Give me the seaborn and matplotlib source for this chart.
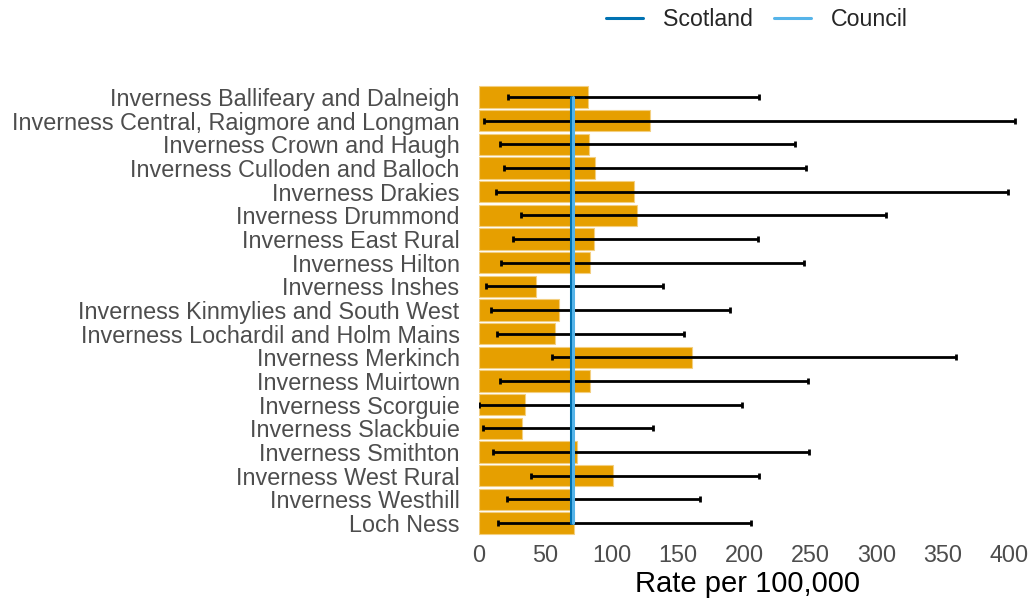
import numpy as np
import pandas as pd
import matplotlib
matplotlib.use("Agg")
import matplotlib.pyplot as plt
import seaborn as sns
from matplotlib.lines import Line2D

# Data
areas = [
    "Inverness Ballifeary and Dalneigh",
    "Inverness Central, Raigmore and Longman",
    "Inverness Crown and Haugh",
    "Inverness Culloden and Balloch",
    "Inverness Drakies",
    "Inverness Drummond",
    "Inverness East Rural",
    "Inverness Hilton",
    "Inverness Inshes",
    "Inverness Kinmylies and South West",
    "Inverness Lochardil and Holm Mains",
    "Inverness Merkinch",
    "Inverness Muirtown",
    "Inverness Scorguie",
    "Inverness Slackbuie",
    "Inverness Smithton",
    "Inverness West Rural",
    "Inverness Westhill",
    "Loch Ness",
]
rate = [82.2, 128.8, 83.2, 87.8, 116.9, 119.6, 87.0, 83.5, 42.8, 60.1,
        57.6, 160.5, 84.0, 35.0, 32.6, 74.3, 101.3, 68.7, 71.9]
lower_ci = [22.1, 4.0, 16.2, 18.9, 12.9, 31.8, 25.9, 16.7, 5.1, 9.4,
            13.5, 54.9, 16.2, 0.0, 2.7, 10.5, 39.3, 21.0, 14.0]
upper_ci = [211.4, 404.6, 238.4, 246.5, 399.2, 307.3, 210.9, 245.1, 138.7, 189.4,
            154.9, 359.9, 248.1, 198.5, 131.2, 248.9, 211.2, 167.0, 205.5]
scotland_rate = 69.1
council_rate = 70.9

df = pd.DataFrame({"area": areas, "rate": rate, "lower": lower_ci, "upper": upper_ci})
df["scotland"] = scotland_rate
df["council"] = council_rate

sns.set_style("white")
plt.rcParams["font.family"] = ["Liberation Sans", "DejaVu Sans"]

fig = plt.figure(figsize=(10.35, 6.02), dpi=100)
ax = fig.add_axes([479 / 1035, 1 - 537.2 / 602, (1015.6 - 479) / 1035, (537.2 - 82.8) / 602])

sns.barplot(data=df, x="rate", y="area", orient="h", color="#E69F00", saturation=1,
            width=0.9, edgecolor="#F3CF80", linewidth=0.8, ax=ax)

pos = np.arange(len(df))
ax.errorbar(x=df["rate"], y=pos,
            xerr=[df["rate"] - df["lower"], df["upper"] - df["rate"]],
            fmt="none", ecolor="black", elinewidth=2, capsize=2.5, capthick=2, zorder=3)

ax.plot(df["scotland"], pos, color="#0072B2", lw=2.2, zorder=4)
ax.plot(df["council"], pos, color="#56B4E9", lw=2.2, zorder=4)

ax.set_xlim(0, 405)
ax.set_ylim(len(df) - 1 + 0.6, -0.6)
ax.set_xticks([0, 50, 100, 150, 200, 250, 300, 350, 400])
ax.tick_params(axis="both", length=0, labelsize=16.8, labelcolor="#4D4D4D")
ax.tick_params(axis="y", pad=14)
ax.tick_params(axis="x", pad=5)
ax.set_xlabel("Rate per 100,000", fontsize=21, color="black", labelpad=2)
ax.set_ylabel("")
sns.despine(ax=ax, left=True, bottom=True)

handles = [Line2D([], [], color="#0072B2", lw=2.2), Line2D([], [], color="#56B4E9", lw=2.2)]
fig.legend(handles, ["Scotland", "Council"], loc="center", bbox_to_anchor=(757 / 1035, 1 - 20 / 602),
           ncol=2, frameon=False, fontsize=16.7, handlelength=1.6, columnspacing=0.9, handletextpad=0.86)

fig.savefig("out.png", dpi=100)
